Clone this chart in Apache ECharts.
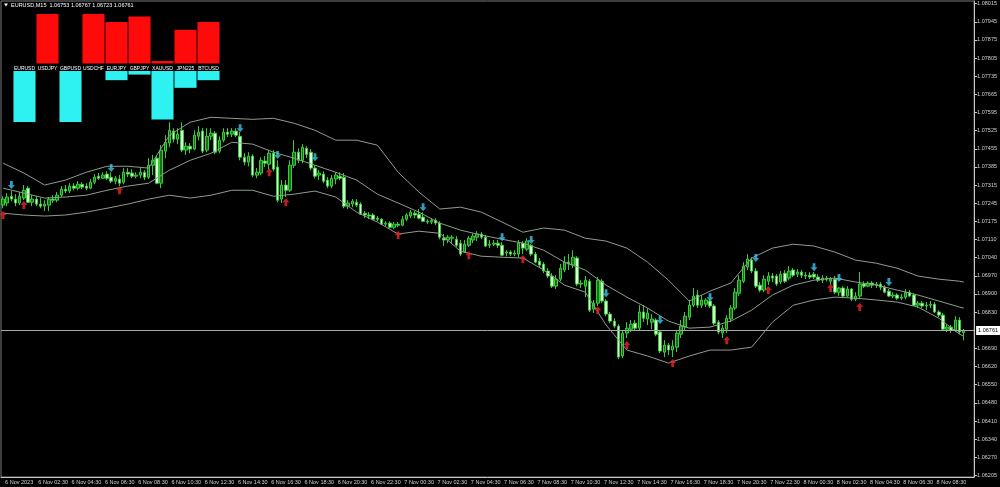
<!DOCTYPE html>
<html><head><meta charset="utf-8">
<script src="https://cdn.jsdelivr.net/npm/echarts@6/dist/echarts.min.js"></script>
<style>html,body{margin:0;padding:0;background:#000}#c{width:1000px;height:487px}</style>
</head><body><div id="c"></div>
<script>
// ---------------- data ----------------
const symbolName = 'EURUSD';
const timeframe = 'M15';
const barsPerTick = 8;
const rightShiftBars = 2;
const xTickLabels = ['6 Nov 2023','6 Nov 02:30','6 Nov 04:30','6 Nov 06:30','6 Nov 08:30','6 Nov 10:30','6 Nov 12:30','6 Nov 14:30','6 Nov 16:30','6 Nov 18:30','6 Nov 20:30','6 Nov 22:30',
  '7 Nov 00:30','7 Nov 02:30','7 Nov 04:30','7 Nov 06:30','7 Nov 08:30','7 Nov 10:30','7 Nov 12:30','7 Nov 14:30','7 Nov 16:30','7 Nov 18:30','7 Nov 20:30','7 Nov 22:30',
  '8 Nov 00:30','8 Nov 02:30','8 Nov 04:30','8 Nov 06:30','8 Nov 08:30'];
const yTickLabels = ['1.06205','1.06270','1.06340','1.06410','1.06480','1.06550','1.06620','1.06690',null,'1.06830','1.06900','1.06970','1.07040','1.07110','1.07175','1.07245','1.07315','1.07385','1.07455','1.07525','1.07595','1.07665','1.07735','1.07805','1.07875','1.07945','1.08015'];

// [open, close, low, high]
const candles = [
[1.07242,1.07265,1.07230,1.07276],[1.07250,1.07273,1.07238,1.07288],[1.07276,1.07265,1.07257,1.07296],[1.07265,1.07250,1.07238,1.07284],
[1.07250,1.07276,1.07242,1.07292],[1.07269,1.07299,1.07261,1.07319],[1.07307,1.07253,1.07250,1.07315],[1.07253,1.07265,1.07238,1.07280],
[1.07265,1.07246,1.07238,1.07276],[1.07246,1.07238,1.07230,1.07269],[1.07238,1.07246,1.07219,1.07261],[1.07242,1.07265,1.07219,1.07273],
[1.07265,1.07261,1.07250,1.07280],[1.07261,1.07280,1.07253,1.07292],[1.07280,1.07303,1.07273,1.07315],[1.07303,1.07296,1.07288,1.07319],
[1.07296,1.07315,1.07288,1.07326],[1.07315,1.07307,1.07299,1.07326],[1.07307,1.07322,1.07299,1.07334],[1.07322,1.07311,1.07303,1.07330],
[1.07315,1.07307,1.07299,1.07326],[1.07307,1.07330,1.07303,1.07342],[1.07330,1.07349,1.07322,1.07361],[1.07353,1.07345,1.07338,1.07365],
[1.07345,1.07357,1.07342,1.07368],[1.07361,1.07345,1.07338,1.07372],[1.07349,1.07334,1.07326,1.07368],[1.07334,1.07345,1.07322,1.07353],
[1.07342,1.07326,1.07315,1.07357],[1.07330,1.07368,1.07322,1.07384],[1.07368,1.07361,1.07349,1.07384],[1.07365,1.07353,1.07345,1.07380],
[1.07353,1.07357,1.07345,1.07368],[1.07357,1.07368,1.07345,1.07384],[1.07368,1.07349,1.07338,1.07376],[1.07349,1.07395,1.07342,1.07422],
[1.07395,1.07414,1.07357,1.07434],[1.07422,1.07326,1.07322,1.07434],[1.07326,1.07453,1.07307,1.07472],[1.07449,1.07483,1.07422,1.07510],
[1.07480,1.07529,1.07464,1.07560],[1.07526,1.07495,1.07483,1.07537],[1.07495,1.07514,1.07476,1.07537],[1.07529,1.07453,1.07445,1.07560],
[1.07453,1.07468,1.07434,1.07483],[1.07468,1.07457,1.07441,1.07480],[1.07457,1.07510,1.07453,1.07529],[1.07506,1.07522,1.07491,1.07545],
[1.07526,1.07449,1.07441,1.07537],[1.07453,1.07506,1.07445,1.07537],[1.07506,1.07518,1.07491,1.07537],[1.07518,1.07445,1.07437,1.07526],
[1.07449,1.07491,1.07441,1.07506],[1.07491,1.07522,1.07483,1.07537],[1.07522,1.07514,1.07503,1.07537],[1.07514,1.07526,1.07503,1.07537],
[1.07526,1.07510,1.07503,1.07537],[1.07506,1.07426,1.07414,1.07522],[1.07426,1.07407,1.07395,1.07441],[1.07407,1.07430,1.07391,1.07445],
[1.07430,1.07357,1.07349,1.07437],[1.07357,1.07368,1.07345,1.07384],[1.07365,1.07414,1.07357,1.07426],[1.07411,1.07403,1.07388,1.07430],
[1.07399,1.07441,1.07380,1.07453],[1.07441,1.07380,1.07372,1.07453],[1.07388,1.07261,1.07253,1.07414],[1.07265,1.07319,1.07250,1.07338],
[1.07319,1.07299,1.07273,1.07338],[1.07299,1.07395,1.07292,1.07414],[1.07395,1.07445,1.07384,1.07491],[1.07445,1.07414,1.07403,1.07460],
[1.07414,1.07464,1.07403,1.07476],[1.07460,1.07437,1.07422,1.07468],[1.07445,1.07384,1.07376,1.07457],[1.07384,1.07353,1.07345,1.07395],
[1.07357,1.07365,1.07338,1.07376],[1.07361,1.07334,1.07326,1.07372],[1.07338,1.07315,1.07307,1.07349],[1.07315,1.07345,1.07307,1.07357],
[1.07342,1.07357,1.07322,1.07368],[1.07353,1.07345,1.07338,1.07368],[1.07349,1.07238,1.07230,1.07365],[1.07238,1.07250,1.07227,1.07261],
[1.07246,1.07257,1.07234,1.07265],[1.07253,1.07242,1.07234,1.07265],[1.07246,1.07207,1.07204,1.07253],[1.07211,1.07204,1.07192,1.07219],
[1.07204,1.07200,1.07188,1.07215],[1.07204,1.07188,1.07184,1.07211],[1.07192,1.07188,1.07180,1.07200],[1.07188,1.07169,1.07165,1.07192],
[1.07169,1.07173,1.07161,1.07180],[1.07173,1.07157,1.07154,1.07180],[1.07157,1.07169,1.07150,1.07177],[1.07169,1.07165,1.07157,1.07177],
[1.07165,1.07188,1.07161,1.07200],[1.07188,1.07204,1.07180,1.07211],[1.07200,1.07215,1.07192,1.07223],[1.07211,1.07204,1.07192,1.07219],
[1.07207,1.07192,1.07188,1.07227],[1.07196,1.07180,1.07177,1.07215],[1.07180,1.07177,1.07169,1.07188],[1.07177,1.07184,1.07169,1.07192],
[1.07184,1.07173,1.07165,1.07192],[1.07173,1.07119,1.07111,1.07180],[1.07115,1.07108,1.07085,1.07131],[1.07108,1.07119,1.07096,1.07127],
[1.07115,1.07119,1.07096,1.07127],[1.07111,1.07088,1.07081,1.07123],[1.07096,1.07054,1.07046,1.07108],[1.07062,1.07092,1.07058,1.07108],
[1.07088,1.07115,1.07081,1.07123],[1.07108,1.07123,1.07096,1.07134],[1.07119,1.07131,1.07104,1.07142],[1.07131,1.07119,1.07111,1.07138],
[1.07119,1.07085,1.07081,1.07127],[1.07088,1.07092,1.07077,1.07108],[1.07092,1.07096,1.07085,1.07108],[1.07096,1.07088,1.07077,1.07108],
[1.07088,1.07050,1.07046,1.07100],[1.07058,1.07062,1.07046,1.07069],[1.07062,1.07054,1.07046,1.07069],[1.07054,1.07058,1.07046,1.07069],
[1.07054,1.07096,1.07042,1.07108],[1.07096,1.07077,1.07054,1.07104],[1.07073,1.07104,1.07065,1.07115],[1.07088,1.07054,1.07046,1.07092],
[1.07054,1.07023,1.07019,1.07062],[1.07027,1.07012,1.07004,1.07039],[1.07016,1.06989,1.06981,1.07023],[1.06989,1.06970,1.06962,1.07000],
[1.06970,1.06931,1.06924,1.06981],[1.06931,1.06958,1.06920,1.06973],[1.06958,1.07000,1.06950,1.07016],[1.06993,1.07023,1.06985,1.07046],
[1.07023,1.07016,1.06993,1.07054],[1.07012,1.07042,1.07000,1.07069],[1.07039,1.06939,1.06931,1.07046],[1.06939,1.06943,1.06924,1.06954],
[1.06931,1.06954,1.06889,1.06970],[1.06950,1.06839,1.06832,1.06958],[1.06843,1.06866,1.06828,1.06878],[1.06866,1.06954,1.06855,1.06966],
[1.06950,1.06874,1.06866,1.06958],[1.06874,1.06824,1.06816,1.06881],[1.06824,1.06797,1.06789,1.06832],[1.06797,1.06778,1.06770,1.06808],
[1.06778,1.06659,1.06651,1.06785],[1.06663,1.06751,1.06655,1.06762],[1.06751,1.06770,1.06732,1.06793],[1.06766,1.06785,1.06755,1.06801],
[1.06789,1.06770,1.06762,1.06801],[1.06770,1.06832,1.06762,1.06858],[1.06832,1.06808,1.06793,1.06858],[1.06805,1.06828,1.06782,1.06847],
[1.06793,1.06805,1.06766,1.06824],[1.06801,1.06747,1.06739,1.06808],[1.06755,1.06682,1.06674,1.06762],[1.06678,1.06705,1.06659,1.06724],
[1.06705,1.06686,1.06667,1.06713],[1.06686,1.06701,1.06659,1.06724],[1.06697,1.06751,1.06678,1.06762],[1.06747,1.06778,1.06732,1.06801],
[1.06774,1.06816,1.06762,1.06832],[1.06812,1.06858,1.06801,1.06878],[1.06858,1.06893,1.06851,1.06924],[1.06897,1.06858,1.06847,1.06916],
[1.06858,1.06878,1.06847,1.06897],[1.06862,1.06878,1.06851,1.06885],[1.06874,1.06855,1.06847,1.06881],[1.06855,1.06789,1.06782,1.06862],
[1.06793,1.06755,1.06747,1.06801],[1.06751,1.06770,1.06732,1.06782],[1.06766,1.06808,1.06751,1.06820],[1.06805,1.06847,1.06793,1.06858],
[1.06847,1.06908,1.06839,1.06924],[1.06904,1.06954,1.06893,1.06973],[1.06950,1.07008,1.06943,1.07023],[1.07004,1.07035,1.06993,1.07054],
[1.07031,1.06989,1.06981,1.07042],[1.06989,1.06931,1.06924,1.07000],[1.06935,1.06916,1.06908,1.06947],[1.06916,1.06958,1.06908,1.06973],
[1.06950,1.06970,1.06935,1.06985],[1.06970,1.06962,1.06947,1.06981],[1.06970,1.06939,1.06931,1.06977],[1.06947,1.06977,1.06939,1.06989],
[1.06981,1.06950,1.06943,1.06993],[1.06962,1.06989,1.06954,1.07008],[1.06993,1.06973,1.06966,1.07000],[1.06977,1.06985,1.06966,1.06996],
[1.06985,1.06973,1.06962,1.06993],[1.06973,1.06970,1.06958,1.06985],[1.06973,1.06966,1.06958,1.06985],[1.06977,1.06966,1.06958,1.06985],
[1.06966,1.06954,1.06947,1.06977],[1.06954,1.06962,1.06943,1.06973],[1.06962,1.06958,1.06950,1.06970],[1.06950,1.06958,1.06935,1.06966],
[1.06958,1.06908,1.06901,1.06970],[1.06908,1.06924,1.06893,1.06927],[1.06924,1.06893,1.06885,1.06931],[1.06893,1.06920,1.06889,1.06931],
[1.06920,1.06881,1.06874,1.06924],[1.06881,1.06893,1.06874,1.06908],[1.06893,1.06939,1.06881,1.06985],[1.06939,1.06931,1.06924,1.06950],
[1.06931,1.06943,1.06927,1.06950],[1.06943,1.06935,1.06924,1.06950],[1.06935,1.06939,1.06924,1.06947],[1.06939,1.06927,1.06916,1.06947],
[1.06927,1.06908,1.06904,1.06935],[1.06912,1.06893,1.06889,1.06920],[1.06893,1.06897,1.06885,1.06908],[1.06897,1.06885,1.06878,1.06904],
[1.06885,1.06889,1.06878,1.06901],[1.06889,1.06908,1.06881,1.06920],[1.06908,1.06893,1.06889,1.06916],[1.06897,1.06858,1.06855,1.06904],
[1.06858,1.06866,1.06847,1.06874],[1.06866,1.06855,1.06847,1.06874],[1.06855,1.06858,1.06839,1.06870],[1.06858,1.06862,1.06847,1.06874],
[1.06862,1.06832,1.06828,1.06870],[1.06832,1.06820,1.06812,1.06839],[1.06820,1.06766,1.06762,1.06828],[1.06766,1.06774,1.06755,1.06785],
[1.06774,1.06762,1.06751,1.06782],[1.06762,1.06801,1.06755,1.06816],[1.06801,1.06755,1.06747,1.06812],[1.06753,1.06761,1.06723,1.06767]
];

const bandIdx    = [0,5,10,15,20,25,30,35,40,45,50,55,60,65,70,75,80,85,90,95,100,105,110,115,120,125,130,135,140,145,150,155,160,165,170,175,180,185,190,195,200,205,210,215,220,225,230,231];
const bandUpper  = [1.07403,1.07365,1.07319,1.07338,1.07368,1.07391,1.07391,1.07384,1.07510,1.07560,1.07579,1.07575,1.07571,1.07575,1.07556,1.07529,1.07491,1.07491,1.07472,1.07368,1.07292,1.07227,1.07234,1.07215,1.07177,1.07138,1.07154,1.07146,1.07115,1.07104,1.07077,1.07023,1.06954,1.06874,1.06912,1.06943,1.07039,1.07077,1.07092,1.07085,1.07062,1.07031,1.07019,1.07000,1.06970,1.06958,1.06950,1.06947];
const bandMiddle = [1.07307,1.07288,1.07269,1.07273,1.07280,1.07299,1.07315,1.07326,1.07376,1.07414,1.07441,1.07483,1.07476,1.07445,1.07422,1.07395,1.07368,1.07338,1.07284,1.07250,1.07215,1.07173,1.07146,1.07127,1.07111,1.07096,1.07069,1.07023,1.06993,1.06935,1.06889,1.06847,1.06797,1.06770,1.06774,1.06797,1.06839,1.06897,1.06935,1.06954,1.06962,1.06947,1.06935,1.06916,1.06897,1.06874,1.06851,1.06847];
const bandLower  = [1.07211,1.07204,1.07200,1.07204,1.07215,1.07230,1.07246,1.07265,1.07280,1.07269,1.07280,1.07299,1.07299,1.07276,1.07284,1.07296,1.07273,1.07215,1.07177,1.07131,1.07142,1.07134,1.07065,1.07046,1.07042,1.07039,1.06993,1.06935,1.06908,1.06782,1.06686,1.06663,1.06636,1.06663,1.06686,1.06686,1.06697,1.06793,1.06858,1.06878,1.06889,1.06885,1.06878,1.06870,1.06851,1.06808,1.06747,1.06739];

// signal arrows [bar index, price]
const sellArrows = [[2,1.07319],[26,1.07384],[57,1.07537],[66,1.07434],[75,1.07426],[101,1.07234],[120,1.07119],[127,1.07108],[145,1.06904],[158,1.06801],[170,1.06889],[181,1.07039],[195,1.07004],[201,1.06962],[213,1.06947]];
const buyArrows  = [[0,1.07204],[5,1.07242],[28,1.07299],[64,1.07368],[68,1.07253],[95,1.07127],[112,1.07050],[125,1.07035],[143,1.06839],[150,1.06705],[161,1.06636],[174,1.06724],[184,1.06916],[199,1.06924],[206,1.06851]];

// currency strength panel
const strengthSymbols = ['EURUSD','USDJPY','GBPUSD','USDCHF','EURJPY','GBPJPY','XAUUSD','JPN225','BTCUSD'];
const strengthUp      = [0,100,0,100,84,95,5,68,84];
const strengthDown    = [100,0,100,0,18,7,95,33,18];

// ---------------- chart ----------------
const barIndex = Array.from({length: candles.length + rightShiftBars}, (_, i) => String(i));
const yFirst = parseFloat(yTickLabels[0]);
const yLast = parseFloat(yTickLabels[yTickLabels.length - 1]);
const yStep = (yLast - yFirst) / (yTickLabels.length - 1);
const yTickValues = [], yTickText = [];
yTickLabels.forEach((t, i) => { if (t !== null) { yTickValues.push(yFirst + i * yStep); yTickText.push(t); } });
const last = candles[candles.length - 1];
const fmt = v => v.toFixed(5);
const headerText = symbolName + ',' + timeframe + '  ' + fmt(last[0]) + ' ' + fmt(last[3]) + ' ' + fmt(last[2]) + ' ' + fmt(last[1]);

const FONT = 'Liberation Sans';
const AX = '#c8c8c8';
const BAND = '#8e9c8e';
const downArrow = 'path://M3,0H7V5H10L5,10L0,5H3Z';
const upArrow = 'path://M5,0L10,5H7V10H3V5H0Z';

const chart = echarts.init(document.getElementById('c'), null, {renderer: 'canvas'});
chart.setOption({
  backgroundColor: '#000000',
  animation: false,
  textStyle: {fontFamily: FONT},
  grid: [
    {left: 1, right: 24, top: 1, bottom: 10, show: true, borderColor: '#7a7a7a', borderWidth: 1},
    {left: 13, top: 14, width: 207, height: 49.5},
    {left: 13, top: 71, width: 207, height: 51}
  ],
  xAxis: [
    {type: 'category', gridIndex: 0, data: barIndex, boundaryGap: true,
     axisLine: {lineStyle: {color: AX, width: 1}},
     axisTick: {alignWithLabel: true, length: 3, interval: (i) => i % barsPerTick === 0, lineStyle: {color: AX}},
     axisLabel: {interval: (i) => i % barsPerTick === 0, formatter: (v, i) => xTickLabels[i / barsPerTick] || '',
       align: 'left', margin: 2, fontSize: 5.5, color: '#d0d0d0', fontFamily: FONT, padding: [0,0,0,2]},
     splitLine: {show: false}},
    {type: 'category', gridIndex: 1, data: strengthSymbols, axisLine: {show: false}, axisTick: {show: false},
     axisLabel: {interval: 0, color: '#ffffff', fontSize: 5, margin: 2.5, fontFamily: FONT}},
    {type: 'category', gridIndex: 2, data: strengthSymbols, show: false}
  ],
  yAxis: [
    {type: 'value', gridIndex: 0, position: 'right', min: 1.06199, max: 1.08025, scale: true,
     axisLine: {show: true, lineStyle: {color: AX}},
     axisTick: {show: true, length: 3, customValues: yTickValues, lineStyle: {color: AX}},
     axisLabel: {customValues: yTickValues, margin: 3, fontSize: 5.5, color: '#d0d0d0', fontFamily: FONT,
       formatter: (v) => { let b = 0, d = 1; yTickValues.forEach((t, k) => { const e = Math.abs(t - v); if (e < d) { d = e; b = k; } }); return yTickText[b]; }},
     splitLine: {show: false}},
    {type: 'value', gridIndex: 1, min: 0, max: 100, show: false},
    {type: 'value', gridIndex: 2, min: 0, max: 100, inverse: true, show: false}
  ],
  graphic: [
    {type: 'polygon', shape: {points: [[4, 3.5], [8, 3.5], [6, 6.5]]}, style: {fill: '#ffffff'}},
    {type: 'text', left: 11, top: 2, style: {text: headerText, fill: '#ffffff', font: '5.5px "' + FONT + '"'}}
  ],
  series: [
    {type: 'candlestick', xAxisIndex: 0, yAxisIndex: 0, data: candles, barWidth: 3, z: 2,
     itemStyle: {color: '#1c6e1c', borderColor: '#35d035', color0: '#dcffdc', borderColor0: '#35d035', borderWidth: 1}},
    {type: 'line', xAxisIndex: 0, yAxisIndex: 0, data: bandIdx.map((k, j) => [k, bandUpper[j]]), showSymbol: false, z: 3,
     lineStyle: {color: BAND, width: 1}},
    {type: 'line', xAxisIndex: 0, yAxisIndex: 0, data: bandIdx.map((k, j) => [k, bandMiddle[j]]), showSymbol: false, z: 3,
     lineStyle: {color: BAND, width: 1},
     markLine: {symbol: ['none', 'none'], silent: true, precision: 5,
       data: [{yAxis: last[1]}],
       lineStyle: {color: '#a8a8a8', width: 1, type: 'solid'},
       label: {position: 'end', distance: 2, formatter: () => fmt(last[1]), backgroundColor: '#ffffff', color: '#000000',
         fontSize: 5.5, fontFamily: FONT, padding: [2, 2, 1, 2]}}},
    {type: 'line', xAxisIndex: 0, yAxisIndex: 0, data: bandIdx.map((k, j) => [k, bandLower[j]]), showSymbol: false, z: 3,
     lineStyle: {color: BAND, width: 1}},
    {type: 'scatter', xAxisIndex: 0, yAxisIndex: 0, data: sellArrows, symbol: downArrow, symbolSize: [7, 8], z: 4,
     itemStyle: {color: '#3cc6ea'}},
    {type: 'scatter', xAxisIndex: 0, yAxisIndex: 0, data: buyArrows, symbol: upArrow, symbolSize: [7, 8], z: 4,
     itemStyle: {color: '#e8252a'}},
    {type: 'bar', xAxisIndex: 1, yAxisIndex: 1, data: strengthUp, barCategoryGap: '4%', z: 5,
     itemStyle: {color: '#ff0a0a'}},
    {type: 'bar', xAxisIndex: 2, yAxisIndex: 2, data: strengthDown, barCategoryGap: '4%', z: 5,
     itemStyle: {color: '#2ef2f2'}}
  ]
});
</script></body></html>
